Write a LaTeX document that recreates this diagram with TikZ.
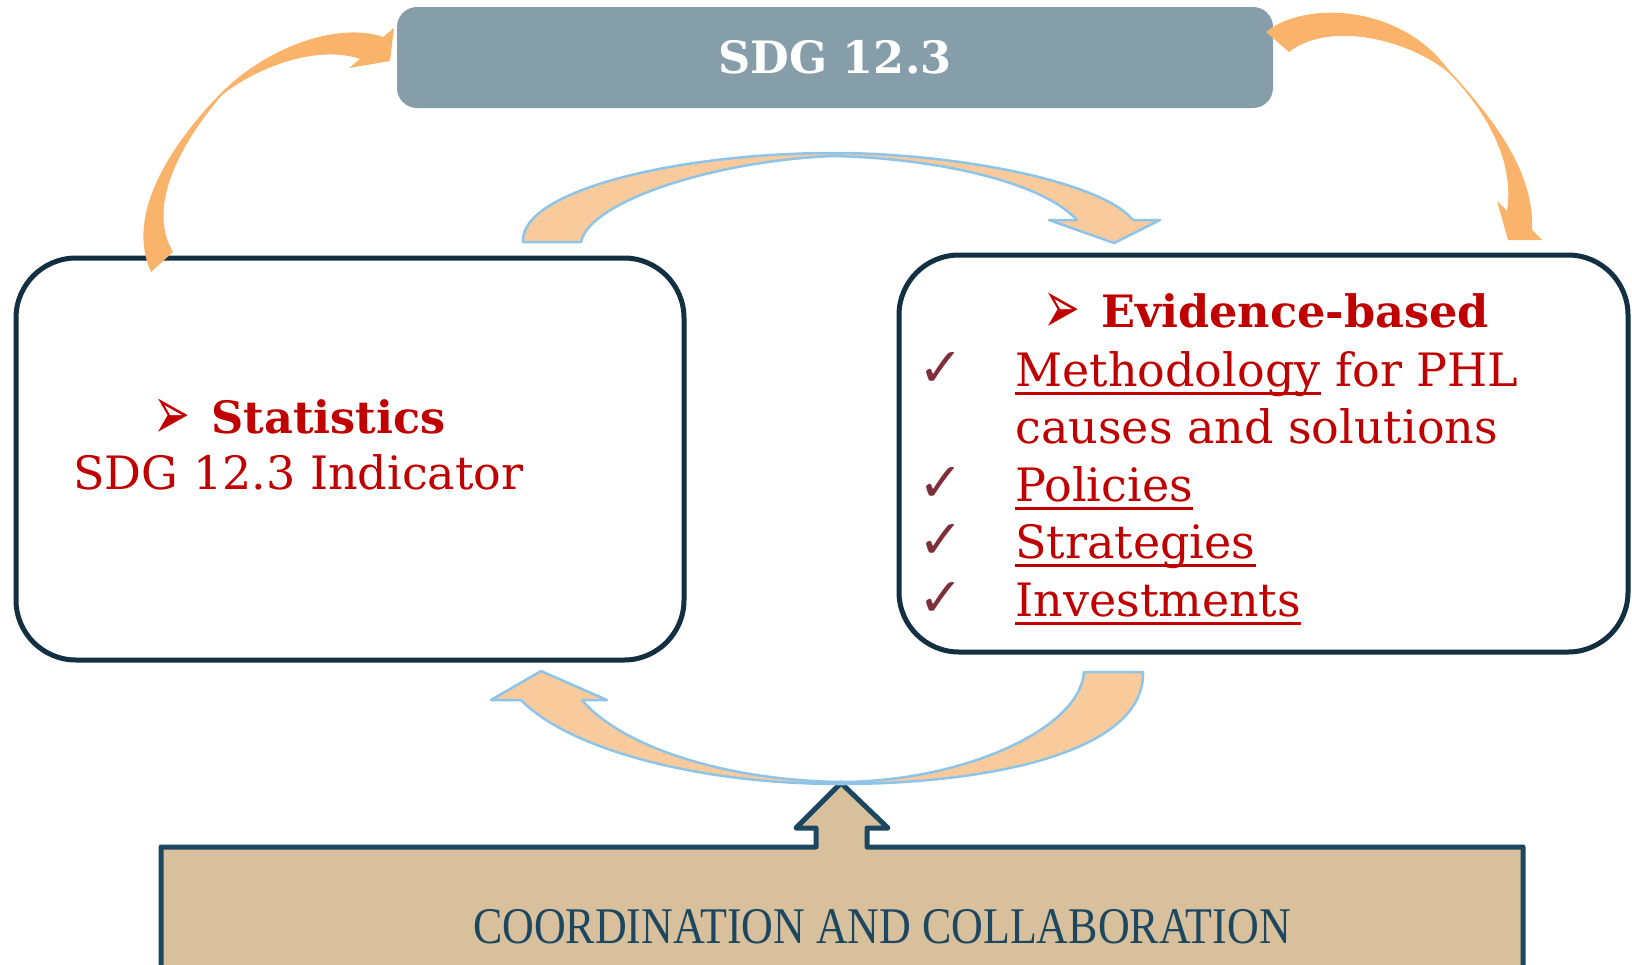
\documentclass[tikz,border=0pt]{standalone}
\usepackage{fontspec}
\newfontfamily\serifrm{DejaVu Serif}
\newfontfamily\symfont{DejaVu Sans}
\newfontfamily\condfont{Liberation Serif}
\definecolor{sdgred}{HTML}{C00000}
\definecolor{chkred}{HTML}{7F2F3A}
\definecolor{navy}{HTML}{132F42}
\definecolor{topgrey}{HTML}{869DAA}
\definecolor{arrorange}{HTML}{FAB36A}
\definecolor{arrpeach}{HTML}{F9CB9C}
\definecolor{arrblue}{HTML}{8EC4E8}
\definecolor{coordfill}{HTML}{D9C09C}
\definecolor{coordnavy}{HTML}{1B4760}
\tikzset{
  topbox/.style={fill=topgrey, draw=none, rounded corners=10pt, inner sep=0pt,
    minimum width=438pt, minimum height=50.5pt, text=white,
    font=\serifrm\bfseries\fontsize{22.3}{26}\selectfont},
  mainbox/.style={draw=navy, line width=2.5pt, rounded corners=30pt, fill=white, inner sep=0pt},
  rtxt/.style={font=\serifrm\fontsize{23}{28}\selectfont, text=sdgred, inner sep=0pt, anchor=base west},
  btxt/.style={font=\serifrm\bfseries\fontsize{22.3}{26}\selectfont, text=sdgred, inner sep=0pt, anchor=base west},
  chk/.style={font=\symfont\fontsize{27}{30}\selectfont, text=chkred, inner sep=0pt, anchor=base west},
  bul/.style={font=\symfont\fontsize{20}{24}\selectfont, text=sdgred, inner sep=0pt, anchor=base west},
  ulline/.style={draw=sdgred, line width=1.5pt},
  solidarrow/.style={fill=arrorange, draw=none},
  outlinearrow/.style={fill=arrpeach, draw=arrblue, line width=1.25pt, line join=round},
  coordbox/.style={fill=coordfill, draw=coordnavy, line width=2.5pt, line join=round},
}
\begin{document}
\begin{tikzpicture}[x=0.5pt,y=-0.5pt]
\useasboundingbox (0,0) rectangle (1632,964);
\fill[white] (0,0) rectangle (1632,964);

% boxes
\node[topbox] (sdg) at (835,57.5) {SDG 12.3};
\node[mainbox, minimum width=334pt, minimum height=201pt] (left) at (350,459) {};
\node[mainbox, minimum width=364.5pt, minimum height=198.5pt] (right) at (1263.5,453.5) {};

% bottom box with up arrow
\draw[coordbox] (161,847) -- (816,847) -- (816,828) -- (796,828) -- (841,783)
  -- (888,828) -- (867,828) -- (867,847) -- (1523,847) -- (1523,1000) -- (161,1000) -- cycle;
\node[font=\condfont\fontsize{25.7}{30}\selectfont, text=coordnavy, anchor=base, inner sep=0pt]
  (coord) at (882,943) {\scalebox{0.855}[1]{COORDINATION AND COLLABORATION}};

% left text
\node[bul] (b1) at (153,439) {\scalebox{1.1}[1.9]{➢}};
\node[btxt] (stats) at (211,433) {Statistics};
\node[rtxt] (ind) at (73,489) {SDG 12.3 Indicator};

% right text
\node[bul] (b2) at (1043,333) {\scalebox{1.1}[1.9]{➢}};
\node[btxt] (evid) at (1101,327) {Evidence-based};
\node[chk] (c1) at (918,386) {✓};
\node[rtxt] (meth) at (1015,386) {Methodology};
\node[rtxt] (phl) at ([xshift=7pt]meth.base east) {for PHL};
\node[rtxt] (caus) at (1015,443.5) {causes and solutions};
\node[chk] (c2) at (918,501) {✓};
\node[rtxt] (pol) at (1015,501) {Policies};
\node[chk] (c3) at (918,558.5) {✓};
\node[rtxt] (strat) at (1015,558.5) {Strategies};
\node[chk] (c4) at (918,616) {✓};
\node[rtxt] (inv) at (1015,616) {Investments};
\foreach \w in {meth,pol,strat,inv}{
  \draw[ulline] ([yshift=-3.6pt]\w.base west) -- ([yshift=-3.6pt]\w.base east);
}

% top-left solid arrow (left box -> SDG box)
\path[solidarrow] (151,272) -- (173,252)
  .. controls (148,210) and (175,150) .. (222,95)
  .. controls (260,65) and (320,45) .. (360,59)
  -- (349,68) -- (390,61) -- (394,28) -- (383,37)
  .. controls (340,22) and (270,45) .. (222,92)
  .. controls (170,145) and (125,215) .. (151,272) -- cycle;

% top-right solid arrow (SDG box -> right box)
\path[solidarrow] (1266,32)
  .. controls (1305,0) and (1400,5) .. (1447,68)
  .. controls (1490,115) and (1535,170) .. (1532,230)
  -- (1542,240) -- (1508,240) -- (1497,201) -- (1507,211)
  .. controls (1515,160) and (1485,110) .. (1449,73)
  .. controls (1410,40) and (1330,20) .. (1289,52) -- cycle;

% top middle outlined arrow (left box -> right box)
\path[outlinearrow] (523,242)
  .. controls (520,190) and (680,153) .. (834,153)
  .. controls (950,153) and (1100,180) .. (1133,220)
  -- (1160,220) -- (1114,243) -- (1049,220) -- (1077,220)
  .. controls (1040,180) and (930,158) .. (834,156)
  .. controls (720,160) and (590,200) .. (581,242) -- cycle;

% bottom outlined arrow (right box -> left box)
\path[outlinearrow] (1143,672)
  .. controls (1145,755) and (980,784) .. (840,784)
  .. controls (700,784) and (570,750) .. (521,700)
  -- (491,700) -- (541,671) -- (607,700) -- (582,700)
  .. controls (620,745) and (720,780) .. (840,782)
  .. controls (960,782) and (1080,730) .. (1084,672) -- cycle;
\end{tikzpicture}
\end{document}
